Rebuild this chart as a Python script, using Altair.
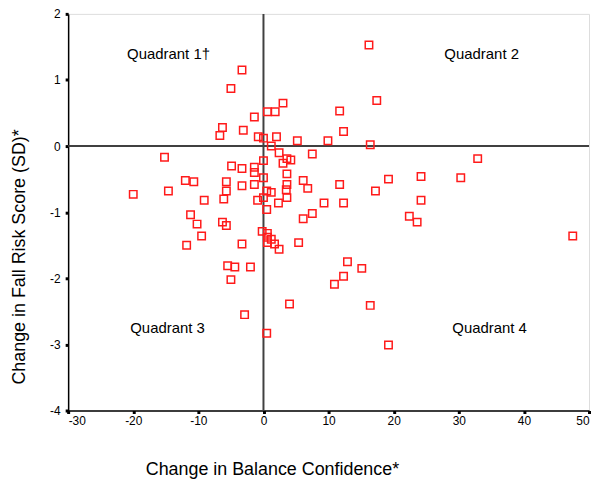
import altair as alt
import pandas as pd

x_vals = [-3.3, -5.0, 0.6, 1.8, -1.4, -6.3, -3.1, -6.7, -0.8, 0.0, 2.0, 1.2, -15.2, 0.0,
          16.2, 17.4, 3.0, 11.7, 12.3, 5.2, 9.9, 16.4, 2.4, 7.5, 3.6, 4.2,
          -4.9, -3.3, -1.4, -1.4, -12.0, -10.7, -5.7, -3.3, -1.4, 0.0, -20.0, -14.6, -5.7,
          0.5, 1.2, 0.0, -0.9, -9.1, -6.1, 0.5, 2.3, -11.2, -10.2, -6.3, -5.7, -9.5, -11.8,
          -3.3, -0.2, 0.6, 0.6, 1.2, 0.6, 1.7, 3.0, 3.6, 6.1, 3.6, 3.5, 11.7, 6.8, 19.2,
          24.2, 17.2, 24.2, 3.6, 9.3, 12.3, 7.5, 6.1, 22.4, 23.6, 5.4, 2.4, -5.5, -4.4,
          -2.0, -5.0, -2.9, 0.5, 12.9, 15.1, 12.3, 10.9, 4.0, 16.4, 19.2, 32.9, 30.3, 47.5]
y_vals = [1.15, 0.87, 0.52, 0.52, 0.44, 0.28, 0.24, 0.16, 0.14, 0.12, 0.14, 0.0, -0.17, -0.22,
          1.53, 0.69, 0.65, 0.53, 0.22, 0.08, 0.08, 0.02, -0.10, -0.12, -0.19, -0.21,
          -0.30, -0.34, -0.32, -0.40, -0.52, -0.54, -0.54, -0.60, -0.58, -0.48, -0.73, -0.68, -0.68,
          -0.68, -0.70, -0.78, -0.82, -0.82, -0.80, -0.96, -0.86, -1.04, -1.18, -1.15, -1.20, -1.36, -1.50,
          -1.48, -1.29, -1.32, -1.38, -1.41, -1.46, -1.48, -0.26, -0.42, -0.52, -0.58, -0.66, -0.58, -0.64, -0.50,
          -0.46, -0.68, -0.82, -0.78, -0.86, -0.86, -1.02, -1.10, -1.06, -1.15, -1.46, -1.56, -1.81, -1.83,
          -1.83, -2.02, -2.55, -2.83, -1.75, -1.85, -1.97, -2.09, -2.39, -2.41, -3.01, -0.19, -0.48, -1.36]

x_ticks = [-30, -20, -10, 0, 10, 20, 30, 40, 50]
y_ticks = [-4, -3, -2, -1, 0, 1, 2]
quad_labels = ["Quadrant 1\u2020", "Quadrant 2", "Quadrant 3", "Quadrant 4"]

df = pd.DataFrame({"x": x_vals, "y": y_vals})

FONT = "Liberation Sans"
W, H = 524, 399

xs = alt.Scale(domain=[-30, 50], nice=False, zero=False)
ys = alt.Scale(domain=[-4, 2], nice=False, zero=False)

points = alt.Chart(df).mark_point(
    shape="square", filled=False, color="#ff1a1a", size=56, strokeWidth=1.5, opacity=1
).encode(
    x=alt.X("x:Q", scale=xs, axis=alt.Axis(
        values=x_ticks, title="Change in Balance Confidence*", grid=False,
        labelExpr="'' + datum.value",
        domainColor="black", domainWidth=1.5, tickColor="black", tickSize=3, tickWidth=3,
        labelFont=FONT, labelFontSize=12, labelColor="black", labelPadding=2,
        titleFont=FONT, titleFontSize=18, titleFontWeight="normal", titleColor="black",
        titleX=205, titleY=50, titleBaseline="top", titleAnchor="middle", titleAlign="center")),
    y=alt.Y("y:Q", scale=ys, axis=alt.Axis(
        values=y_ticks, title="Change in Fall Risk Score (SD)*", grid=False,
        labelExpr="'' + datum.value",
        domainColor="black", domainWidth=1.5, tickColor="black", tickSize=3, tickWidth=3,
        labelFont=FONT, labelFontSize=12, labelColor="black", labelPadding=5,
        titleFont=FONT, titleFontSize=18, titleFontWeight="normal", titleColor="black",
        titleAngle=270, titleX=-49, titleY=244, titleBaseline="middle", titleAlign="center")),
)

vline = alt.Chart(pd.DataFrame({"x": [0]})).mark_rule(color="#404040", strokeWidth=2).encode(
    x=alt.X("x:Q", scale=xs))
hline = alt.Chart(pd.DataFrame({"y": [0]})).mark_rule(color="#404040", strokeWidth=2).encode(
    y=alt.Y("y:Q", scale=ys))

qpos_x = [101, 416, 100, 424]
qpos_y = [40, 40, 316, 316]
texts = []
for lab, px, py in zip(quad_labels, qpos_x, qpos_y):
    texts.append(
        alt.Chart(pd.DataFrame({"t": [lab]})).mark_text(
            font=FONT, fontSize=15, color="black", align="center", baseline="middle"
        ).encode(text="t:N", x=alt.value(px), y=alt.value(py))
    )

chart = alt.layer(vline, hline, points, *texts).properties(
    width=W, height=H,
    autosize=alt.AutoSizeParams(type="none"),
    padding={"left": 60.5, "top": 4.5, "right": 5, "bottom": 70},
).configure_view(stroke="black", strokeWidth=1.5).configure(background="white")

chart.save("out.html", embed_options={"renderer": "svg", "actions": False})
